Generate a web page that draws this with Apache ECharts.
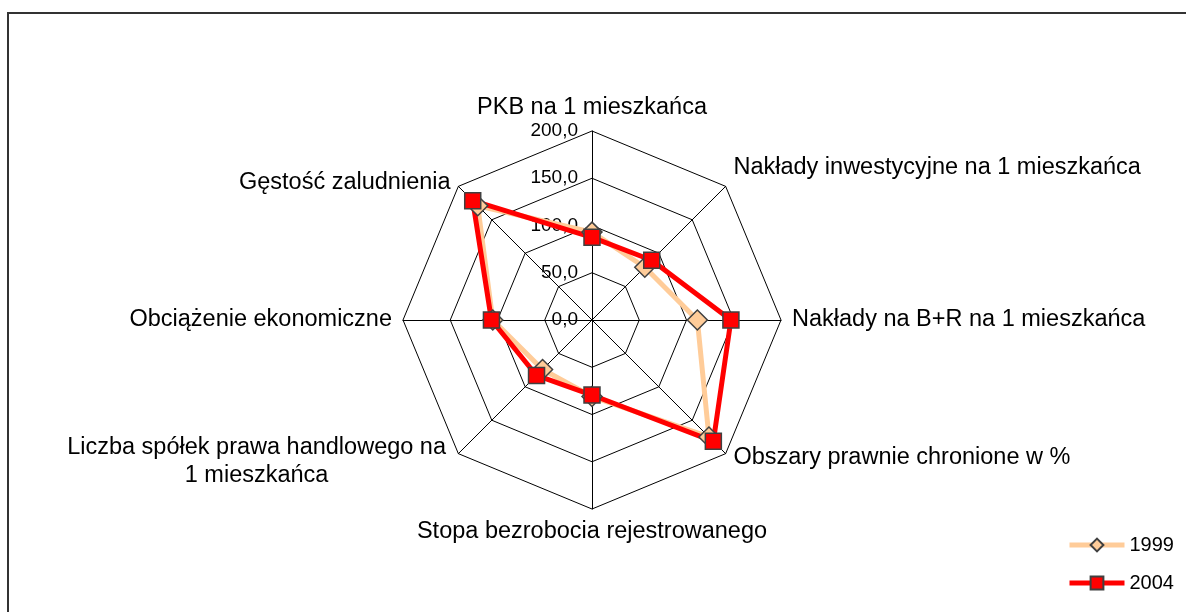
<!DOCTYPE html>
<html>
<head>
<meta charset="utf-8">
<style>
  html, body { margin: 0; padding: 0; background: #fff; }
  #main { width: 1186px; height: 612px; }
</style>
<script src="https://cdn.jsdelivr.net/npm/echarts@6/dist/echarts.min.js"></script>
</head>
<body>
<div id="main"></div>
<script>
// wskaźniki w kolejności przeciwnej do ruchu wskazówek zegara (od góry)
var indicatorNames = [
  'PKB na 1 mieszkańca',
  'Gęstość zaludnienia',
  'Obciążenie ekonomiczne',
  'Liczba spółek prawa handlowego na\n1 mieszkańca',
  'Stopa bezrobocia rejestrowanego',
  'Obszary prawnie chronione w %',
  'Nakłady na B+R na 1 mieszkańca',
  'Nakłady inwestycyjne na 1 mieszkańca'
];
var values1999 = [93, 171, 105, 74, 81, 175, 111.5, 79];
var values2004 = [87.5, 178.5, 106.4, 83, 79.4, 181.6, 147, 89.4];
var seriesNames = ['1999', '2004'];
var axisMax = 200;
var axisStep = 50;

// styl nazw osi (przesunięcia jak w oryginale)
var nameStyle = {
  'Gęstość zaludnienia': 'nw',
  'Obszary prawnie chronione w %': 'se',
  'Nakłady inwestycyjne na 1 mieszkańca': 'ne',
  'Liczba spółek prawa handlowego na\n1 mieszkańca': 'sw'
};

var font = 'Liberation Sans, Arial, sans-serif';
var fs = 23.5;
var myChart = echarts.init(document.getElementById('main'));

myChart.setOption({
  animation: false,
  backgroundColor: '#fff',
  graphic: [{
    type: 'rect',
    shape: { x: 8, y: 13, width: 1300, height: 800 },
    style: { fill: 'none', stroke: '#333', lineWidth: 2 },
    silent: true
  }],
  legend: {
    orient: 'vertical',
    left: 1062,
    top: 530,
    itemWidth: 55,
    itemHeight: 16,
    itemGap: 18,
    data: seriesNames,
    lineStyle: { width: 5 },
    textStyle: { fontSize: 20, color: '#000', fontFamily: font }
  },
  grid: { left: 0, top: 0, width: 1, height: 1, show: false },
  xAxis: { show: false, type: 'value' },
  yAxis: { show: false, type: 'value' },
  polar: { center: [592, 320], radius: 189 },
  angleAxis: { show: false, min: 0, max: 360 },
  radiusAxis: {
    min: 0,
    max: axisMax,
    interval: axisStep,
    axisLine: { show: false },
    axisTick: { show: false },
    splitLine: { show: false },
    axisLabel: {
      margin: 14,
      fontSize: 19,
      color: '#000',
      fontFamily: font,
      formatter: function (v) { return v.toFixed(1).replace('.', ','); }
    }
  },
  radar: {
    center: [592, 320],
    radius: 189,
    shape: 'polygon',
    splitNumber: 4,
    nameGap: 11,
    indicator: indicatorNames.map(function (n) { return { name: n, min: 0, max: axisMax }; }),
    axisName: {
      color: '#000',
      fontSize: fs,
      fontFamily: font,
      formatter: function (name) {
        var key = nameStyle[name];
        if (!key) return name;
        return name.split('\n').map(function (s) { return '{' + key + '|' + s + '}'; }).join('\n');
      },
      rich: {
        nw: { fontSize: fs, color: '#000', fontFamily: font, padding: [8, 0, 0, 0] },
        se: { fontSize: fs, color: '#000', fontFamily: font, padding: [0, 0, 8, 0] },
        ne: { fontSize: fs, color: '#000', fontFamily: font, padding: [0, 0, 22, 0] },
        sw: { fontSize: fs, color: '#000', fontFamily: font, width: 388, align: 'center', lineHeight: 28 }
      }
    },
    axisLine: { lineStyle: { color: '#000', width: 1 } },
    splitLine: { lineStyle: { color: '#000', width: 1 } },
    splitArea: { show: false }
  },
  series: [{
    name: '1999',
    type: 'line',
    data: [],
    symbol: 'diamond',
    symbolSize: 16,
    itemStyle: { color: '#FFCC99', borderColor: '#404040', borderWidth: 1.5 },
    lineStyle: { color: '#FFCC99', width: 5 }
  }, {
    name: '2004',
    type: 'line',
    data: [],
    symbol: 'rect',
    symbolSize: 14,
    itemStyle: { color: '#FF0000', borderColor: '#404040', borderWidth: 1.5 },
    lineStyle: { color: '#FF0000', width: 5 }
  }, {
    type: 'radar',
    data: [{
      name: '1999',
      value: values1999,
      symbol: 'diamond',
      symbolSize: 20,
      itemStyle: { color: '#FFCC99', borderColor: '#404040', borderWidth: 1.5 },
      lineStyle: { color: '#FFCC99', width: 5 }
    }, {
      name: '2004',
      value: values2004,
      symbol: 'rect',
      symbolSize: 16,
      itemStyle: { color: '#FF0000', borderColor: '#404040', borderWidth: 1.5 },
      lineStyle: { color: '#FF0000', width: 5 }
    }]
  }]
});
</script>
</body>
</html>
